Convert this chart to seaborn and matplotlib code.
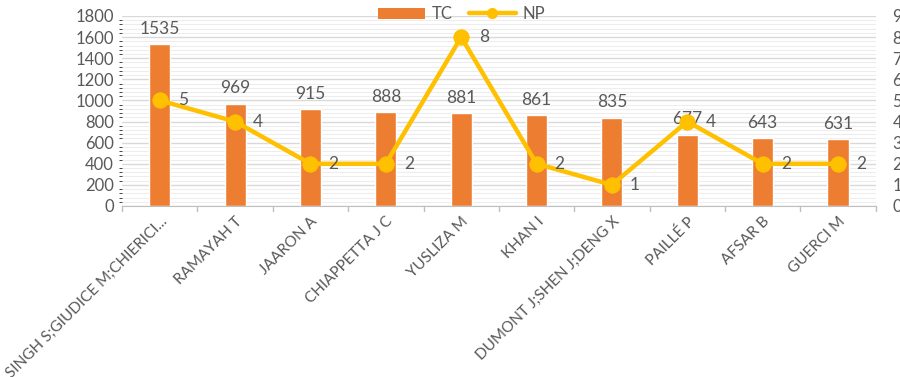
import matplotlib
matplotlib.use("Agg")
import matplotlib.pyplot as plt
from matplotlib.patches import Patch
from matplotlib.lines import Line2D
from matplotlib.ticker import MultipleLocator
import numpy as np
import pandas as pd
import seaborn as sns

authors = ["SINGH S;GIUDICE M;CHIERICI...", "RAMAYAH T", "JAARON A", "CHIAPPETTA J C",
           "YUSLIZA M", "KHAN I", "DUMONT J;SHEN J;DENG X", "PAILLÉ P", "AFSAR B", "GUERCI M"]
tc = [1535, 969, 915, 888, 881, 861, 835, 677, 643, 631]
np_counts = [5, 4, 2, 2, 8, 2, 1, 4, 2, 2]

bar_color = "#ED7D31"
line_color = "#FFC000"
text_color = "#595959"

sns.set_style("white")
plt.rcParams["font.family"] = ["Lato", "DejaVu Sans"]

df = pd.DataFrame({"author": authors, "TC": tc, "NP": np_counts, "pos": np.arange(len(authors))})

fig = plt.figure(figsize=(9, 3.77), dpi=100)
ax = fig.add_axes([0.1356, 0.4536, 0.8374, 0.504])

sns.barplot(data=df, x="author", y="TC", color=bar_color, width=0.28, saturation=1, ax=ax)
ax.set_ylim(0, 1800)
ax.set_xlim(-0.5, len(authors) - 0.5)
ax.yaxis.set_major_locator(MultipleLocator(200))
ax.yaxis.set_minor_locator(MultipleLocator(40))
ax.grid(axis="y", which="major", color="#D9D9D9", linewidth=1.0)
ax.grid(axis="y", which="minor", color="#EDEDED", linewidth=0.8)
ax.set_axisbelow(True)
for s in ["top", "right", "left"]:
    ax.spines[s].set_visible(False)
ax.spines["bottom"].set_color("#BFBFBF")
ax.set_xlabel("")
ax.set_ylabel("")
ax.tick_params(axis="y", length=0, labelsize=12, labelcolor=text_color, pad=6)
ax.set_xticks(np.arange(len(authors)))
ax.set_xticklabels(authors, rotation=45, ha="right", rotation_mode="anchor",
                   fontsize=11, color=text_color)
ax.tick_params(axis="x", length=0, pad=6)
# category boundary ticks
for b in np.arange(-0.5, len(authors) + 0.5, 1):
    ax.plot([b, b], [0, -1800 * 0.025], color="#BFBFBF", lw=1, clip_on=False)

for i, v in enumerate(tc):
    ax.text(i, v + 70, str(v), ha="center", va="bottom", fontsize=12.5, color=text_color)

ax2 = ax.twinx()
sns.lineplot(data=df, x="pos", y="NP", color=line_color, linewidth=3.2, marker="o",
             markersize=11, markeredgecolor=line_color, ax=ax2)
ax2.set_ylim(0, 9)
ax2.set_yticks(range(0, 10))
ax2.tick_params(axis="y", length=0, labelsize=12, labelcolor=text_color, pad=12)
for s in ["top", "right", "left", "bottom"]:
    ax2.spines[s].set_visible(False)
ax2.set_ylabel("")
ax2.set_xlabel("")
ax2.grid(False)
for i, v in enumerate(np_counts):
    ax2.text(i + 0.24, v, str(v), ha="left", va="center", fontsize=12.5, color=text_color)

handles = [Patch(facecolor=bar_color, edgecolor="none"),
           Line2D([0], [0], color=line_color, lw=3.2, marker="o", markersize=7)]
fig.legend(handles, ["TC", "NP"], loc="center", bbox_to_anchor=(0.513, 0.962), ncol=2,
           frameon=False, fontsize=12, labelcolor=text_color, handlelength=2.8,
           handleheight=0.7, columnspacing=1.0, handletextpad=0.4)

fig.savefig("out.png", dpi=100)
